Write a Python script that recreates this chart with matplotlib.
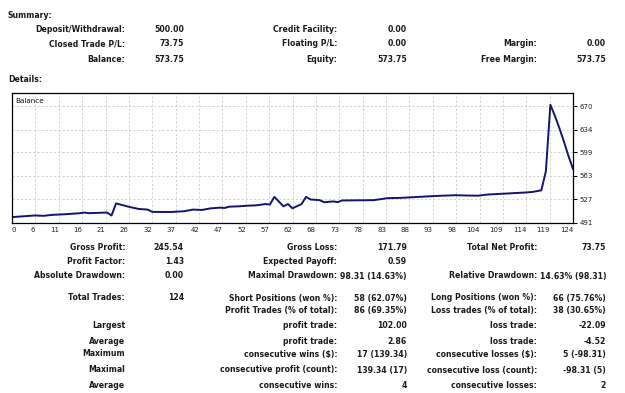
import numpy as np
import matplotlib
matplotlib.use("Agg")
import matplotlib.pyplot as plt

# balance curve (trade number -> balance)
trade_no = [0, 3, 5, 7, 9, 12, 15, 16, 17, 20, 21, 22, 23, 26, 28, 30, 31, 35, 38,
            40, 42, 44, 46, 47, 48, 50, 52, 54, 56, 57, 58, 60, 61, 62, 64, 65, 66,
            68, 69, 71, 72, 73, 80, 83, 86, 90, 94, 98, 101, 103, 105, 109, 113,
            115, 117, 118, 119, 120, 121, 122, 123, 124]
balance = [500.0, 501.5, 502.5, 502.0, 503.5, 504.5, 506.0, 507.0, 506.0, 506.8,
           507.0, 502.5, 521.0, 515.5, 512.5, 511.5, 508.0, 507.8, 509.0, 511.5,
           511.0, 513.5, 514.5, 514.0, 516.0, 516.5, 517.5, 518.0, 520.0, 519.3,
           531.0, 516.5, 520.0, 513.5, 520.0, 531.0, 527.0, 526.0, 522.8, 524.0,
           523.0, 525.5, 526.0, 529.0, 529.5, 531.0, 532.5, 533.5, 533.0, 532.8,
           534.5, 536.0, 537.5, 538.5, 541.0, 570.0, 672.0, 655.0, 636.0, 615.5,
           593.5, 573.75]

x_labels = ["0", "6", "11", "16", "21", "26", "32", "37", "42", "47", "52", "57",
            "62", "68", "73", "78", "83", "88", "93", "98", "104", "109", "114",
            "119", "124"]
y_labels = [491, 527, 563, 599, 634, 670]

summary_rows = [
    ["Deposit/Withdrawal:", "500.00", "Credit Facility:", "0.00", "", ""],
    ["Closed Trade P/L:", "73.75", "Floating P/L:", "0.00", "Margin:", "0.00"],
    ["Balance:", "573.75", "Equity:", "573.75", "Free Margin:", "573.75"],
]

detail_rows = [
    ["Gross Profit:", "245.54", "Gross Loss:", "171.79", "Total Net Profit:", "73.75"],
    ["Profit Factor:", "1.43", "Expected Payoff:", "0.59", "", ""],
    ["Absolute Drawdown:", "0.00", "Maximal Drawdown:", "98.31 (14.63%)",
     "Relative Drawdown:", "14.63% (98.31)"],
    ["Total Trades:", "124", "Short Positions (won %):", "58 (62.07%)",
     "Long Positions (won %):", "66 (75.76%)"],
    ["", "", "Profit Trades (% of total):", "86 (69.35%)",
     "Loss trades (% of total):", "38 (30.65%)"],
    ["Largest", "", "profit trade:", "102.00", "loss trade:", "-22.09"],
    ["Average", "", "profit trade:", "2.86", "loss trade:", "-4.52"],
    ["Maximum", "", "consecutive wins ($):", "17 (139.34)",
     "consecutive losses ($):", "5 (-98.31)"],
    ["Maximal", "", "consecutive profit (count):", "139.34 (17)",
     "consecutive loss (count):", "-98.31 (5)"],
    ["Average", "", "consecutive wins:", "4", "consecutive losses:", "2"],
]

W, H = 625, 393
fig = plt.figure(figsize=(W / 100, H / 100), dpi=100)
fig.patch.set_facecolor("white")


def put(x, y, s, ha="right", **kw):
    fig.text(x / W, 1 - y / H, s, ha=ha, va="center", fontsize=5.6,
             fontweight="bold", color="#1a1a1a", **kw)


col_x = [125, 184, 337, 407, 537, 606]

put(8, 16, "Summary:", ha="left")
for row, y in zip(summary_rows, [29, 44, 60]):
    for s, x in zip(row, col_x):
        if s:
            put(x, y, s)

put(8, 79, "Details:", ha="left")
detail_y = [248, 262, 276, 298, 311, 326, 341, 354, 370, 385]
for row, y in zip(detail_rows, detail_y):
    for s, x in zip(row, col_x):
        if s:
            put(x, y, s)

# chart
left, top, right, bottom = 12, 93, 573, 223
ax = fig.add_axes([left / W, 1 - bottom / H, (right - left) / W, (bottom - top) / H])
ax.plot(trade_no, balance, color="#14146e", lw=1.4)
ax.set_xlim(0, 124)
ax.set_ylim(491, 690)
ax.set_xticks(np.linspace(0, 124, len(x_labels)))
ax.set_xticklabels(x_labels, fontsize=5, color="#222222")
for i, lbl in enumerate(ax.get_xticklabels()):
    lbl.set_ha("left" if i == 0 else "right")
ax.set_yticks(y_labels)
ax.set_yticklabels([str(v) for v in y_labels], fontsize=5, color="#222222")
ax.yaxis.tick_right()
ax.tick_params(axis="x", length=0, pad=3)
ax.tick_params(axis="y", length=3, pad=2, width=0.7)
ax.grid(True, color="#c8c8c8", linestyle=(0, (2.5, 2.5)), linewidth=0.6)
for sp in ax.spines.values():
    sp.set_color("black")
    sp.set_linewidth(0.9)
ax.text(0.006, 0.94, "Balance", transform=ax.transAxes, fontsize=5.2,
        ha="left", va="center", color="#111111")

fig.savefig("out.png", dpi=100)
